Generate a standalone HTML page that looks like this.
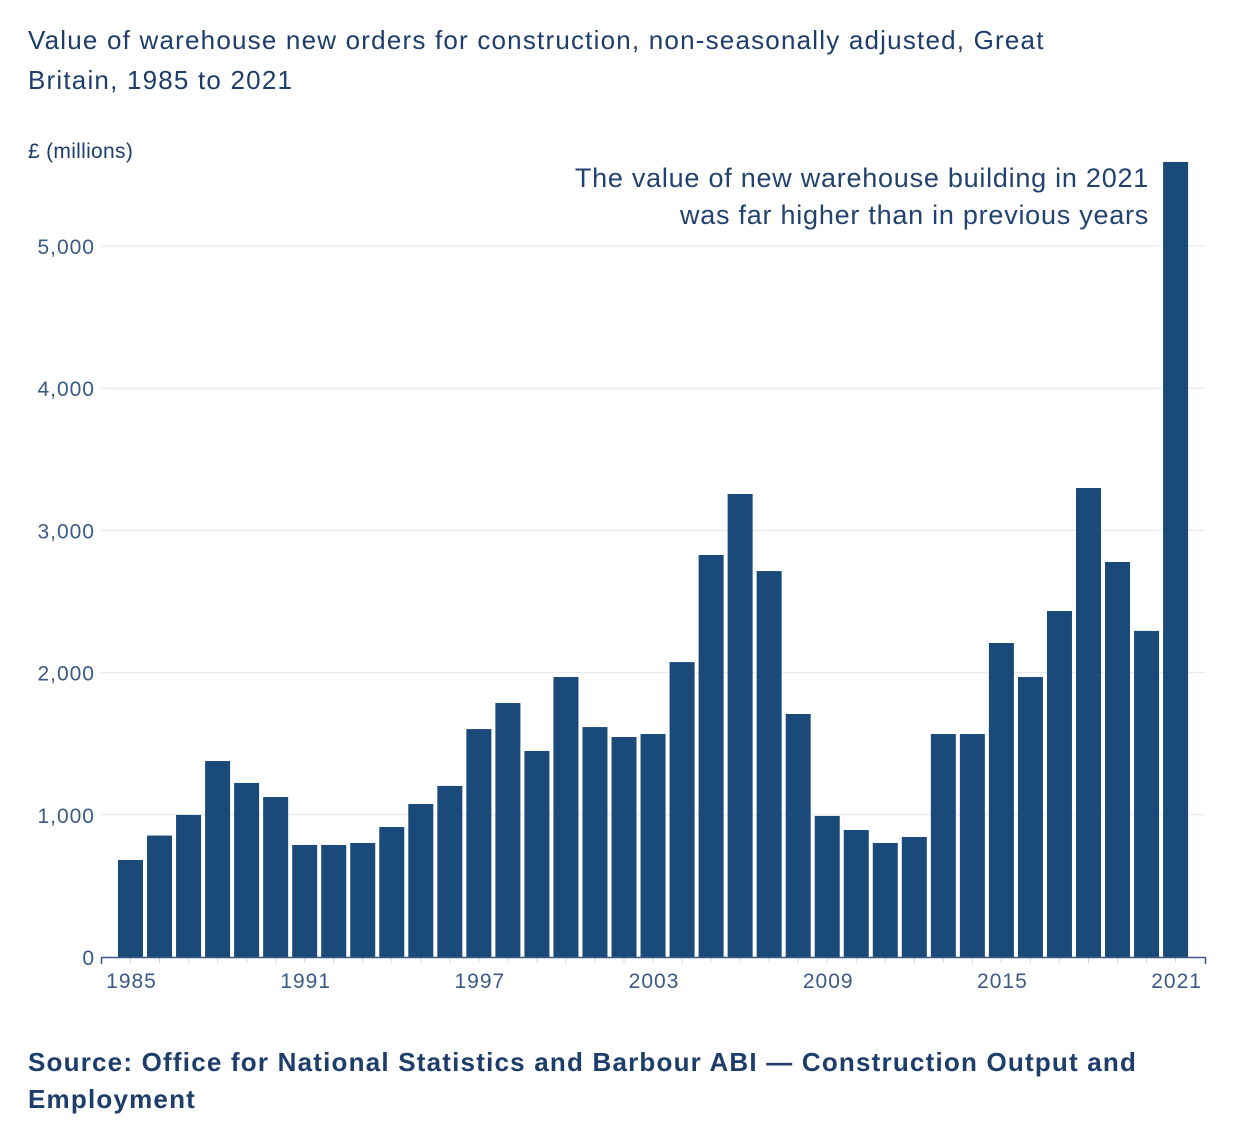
<!DOCTYPE html>
<html><head><meta charset="utf-8"><style>
body{margin:0;background:#fff;width:1260px;height:1125px;overflow:hidden;font-family:"Liberation Sans","DejaVu Sans",sans-serif;}
.t{position:absolute;color:#1d3d6b;}
</style></head><body>
<div class="t" style="left:28px;top:20px;font-size:26px;line-height:40px;width:1220px;letter-spacing:1.2px;">Value of warehouse new orders for construction, non-seasonally adjusted, Great<br>Britain, 1985 to 2021</div>
<div class="t" style="left:28px;top:140px;font-size:21px;letter-spacing:0.3px;">£ (millions)</div>
<div class="t" style="right:111px;top:160px;font-size:27px;line-height:37px;text-align:right;color:#22426f;letter-spacing:0.75px;">The value of new warehouse building in 2021<br>was far higher than in previous years</div>
<div class="t" style="left:28px;top:1044px;font-size:26px;line-height:37px;font-weight:bold;width:1220px;letter-spacing:1.2px;">Source: Office for National Statistics and Barbour ABI — Construction Output and<br>Employment</div>
<svg id="c" width="1260" height="1125" style="position:absolute;left:0;top:0"></svg>
<script>
const years=[1985,1986,1987,1988,1989,1990,1991,1992,1993,1994,1995,1996,1997,1998,1999,2000,2001,2002,2003,2004,2005,2006,2007,2008,2009,2010,2011,2012,2013,2014,2015,2016,2017,2018,2019,2020,2021];
const values=[682,854,999,1378,1224,1125,788,788,802,914,1076,1203,1603,1786,1449,1969,1617,1547,1568,2074,2827,3256,2714,1709,992,893,802,844,1568,1568,2208,1969,2433,3298,2778,2293,5591];
const yTicks=[0,1000,2000,3000,4000,5000];
const xLabels=[1985,1991,1997,2003,2009,2015,2021];
const NS="http://www.w3.org/2000/svg",svg=document.getElementById('c');
const y=v=>957-v*0.1422;
const x=yr=>130.5+(yr-1985)*29.03;
function mk(t,a){const e=document.createElementNS(NS,t);for(const k in a)e.setAttribute(k,a[k]);svg.appendChild(e);return e;}
yTicks.forEach(v=>{
 if(v>0){const g=mk('line',{x1:101,x2:1205,y1:y(v),y2:y(v),stroke:'#e3e8ef','stroke-width':1});
 
 }
 const t=mk('text',{x:95,y:y(v)+8,'text-anchor':'end','font-size':21,'letter-spacing':1,fill:'#3a5a85','font-family':'Liberation Sans, sans-serif'});
 t.textContent=v.toLocaleString('en-GB');
 
 
});
years.forEach((yr,i)=>{
 const r=mk('rect',{x:x(yr)-12.5,y:y(values[i]),width:25,height:957-y(values[i]),fill:'#1a4a7a'});
 
 
 const tk=mk('line',{x1:x(yr),x2:x(yr),y1:958,y2:963,stroke:'#cfd7e2','stroke-width':1});
 
 
});
const ax=mk('path',{d:'M101.5,964 V957.5 H1205.5 V964',fill:'none',stroke:'#3a5a85','stroke-width':1.5});


xLabels.forEach(yr=>{
 const t=mk('text',{x:x(yr)+1,y:988,'text-anchor':'middle','font-size':21,'letter-spacing':1,fill:'#3a5a85','font-family':'Liberation Sans, sans-serif'});
 t.textContent=yr;
 
 
});
</script>
</body></html>
